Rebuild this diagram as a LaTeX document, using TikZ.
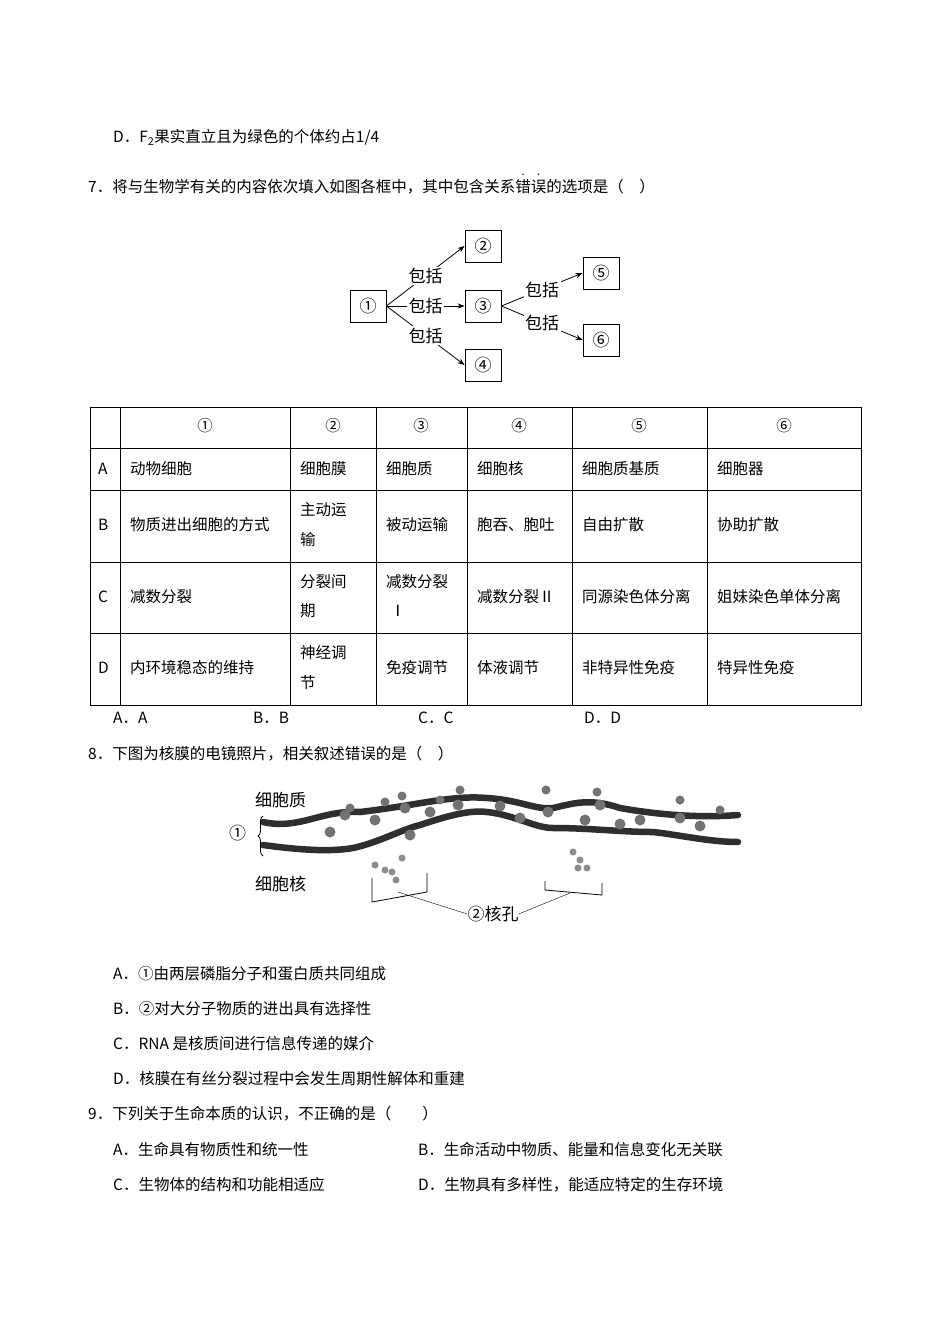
\documentclass[tikz,border=0pt]{standalone}
\usepackage{fontspec}
\setmainfont{Liberation Serif}
\newfontfamily\cjk{Noto Sans CJK SC}
\newcommand\zdot[1]{\leavevmode\rlap{\hbox to 1em{\hss\raisebox{0.95em}{\fontsize{7}{7}\selectfont\textbullet}\hss}}#1}
\usetikzlibrary{arrows.meta,decorations.pathreplacing}
\begin{document}
\begin{tikzpicture}[x=1pt,y=-1pt,
  txt/.style={anchor=west,inner sep=0pt,font=\cjk\fontsize{15.5}{18}\selectfont},
  ctr/.style={anchor=center,inner sep=0pt,font=\cjk\fontsize{15.5}{18}\selectfont},
  bx/.style={draw,thick,minimum width=36pt,minimum height=32pt,inner sep=0pt,font=\cjk\fontsize{17}{18}\selectfont},
  lbl/.style={inner sep=1.5pt,font=\cjk\fontsize{17}{18}\selectfont,fill=white},
  arr/.style={-{Stealth[length=7pt]},thick},
  blob/.style={fill=black!55},
  mem/.style={line width=6.5pt,black!82,line cap=round}]
\useasboundingbox (0,0) rectangle (950,1344);
\fill[white] (0,0) rectangle (950,1344);
% Q6 D
\node[txt] (q6d) at (113,137) {D．F\textsubscript{2}果实直立且为绿色的个体约占1/4};
% Q7
\node[txt] (q7) at (88,184) {7．将与生物学有关的内容依次填入如图各框中，其中包含关系\zdot{错}\zdot{误}的选项是（\quad）};
% diagram
\node[bx] (n1) at (368,306) {①};
\node[bx] (n2) at (483,246) {②};
\node[bx] (n3) at (483,306) {③};
\node[bx] (n4) at (483,365) {④};
\node[bx] (n5) at (601,273) {⑤};
\node[bx] (n6) at (601,340) {⑥};
\draw[arr] (n1.east) -- (n2.west) node[lbl,pos=0.5] {包括};
\draw[arr] (n1.east) -- (n3.west) node[lbl,pos=0.5] {包括};
\draw[arr] (n1.east) -- (n4.west) node[lbl,pos=0.5] {包括};
\draw[arr] (n3.east) -- (n5.west) node[lbl,pos=0.5] {包括};
\draw[arr] (n3.east) -- (n6.west) node[lbl,pos=0.5] {包括};
% table
\draw[thick] (90,407) rectangle (861,705);
\foreach \y in {448,490,562,633} \draw (90,\y) -- (861,\y);
\foreach \x in {120,290,376,467,572,707} \draw (\x,407) -- (\x,705);
\node[ctr] (h1) at (205,426) {①};
\node[ctr] (h2) at (333,426) {②};
\node[ctr] (h3) at (421,426) {③};
\node[ctr] (h4) at (519,426) {④};
\node[ctr] (h5) at (639,426) {⑤};
\node[ctr] (h6) at (784,426) {⑥};
% row A
\node[txt] (ra) at (98,469) {A};
\node[txt] (a1) at (130,469) {动物细胞};
\node[txt] (a2) at (300,469) {细胞膜};
\node[txt] (a3) at (386,469) {细胞质};
\node[txt] (a4) at (477,469) {细胞核};
\node[txt] (a5) at (582,469) {细胞质基质};
\node[txt] (a6) at (717,469) {细胞器};
% row B
\node[txt] (rb) at (98,525) {B};
\node[txt] (b1) at (130,525) {物质进出细胞的方式};
\node[txt] (b2a) at (300,510) {主动运};
\node[txt] (b2b) at (300,540) {输};
\node[txt] (b3) at (386,525) {被动运输};
\node[txt] (b4) at (477,525) {胞吞、胞吐};
\node[txt] (b5) at (582,525) {自由扩散};
\node[txt] (b6) at (717,525) {协助扩散};
% row C
\node[txt] (rc) at (98,597) {C};
\node[txt] (c1) at (130,597) {减数分裂};
\node[txt] (c2a) at (300,582) {分裂间};
\node[txt] (c2b) at (300,611) {期};
\node[txt] (c3a) at (386,582) {减数分裂};
\node[txt] (c3b) at (390,611) {Ⅰ};
\node[txt] (c4) at (477,597) {减数分裂Ⅱ};
\node[txt] (c5) at (582,597) {同源染色体分离};
\node[txt] (c6) at (717,597) {姐妹染色单体分离};
% row D
\node[txt] (rd) at (98,668) {D};
\node[txt] (d1) at (130,668) {内环境稳态的维持};
\node[txt] (d2a) at (300,653) {神经调};
\node[txt] (d2b) at (300,683) {节};
\node[txt] (d3) at (386,668) {免疫调节};
\node[txt] (d4) at (477,668) {体液调节};
\node[txt] (d5) at (582,668) {非特异性免疫};
\node[txt] (d6) at (717,668) {特异性免疫};
% answers
\node[txt] (o7a) at (113,718) {A．A};
\node[txt] (o7b) at (253,718) {B．B};
\node[txt] (o7c) at (418,718) {C．C};
\node[txt] (o7d) at (584,718) {D．D};
% Q8
\node[txt] (q8) at (88,754) {8．下图为核膜的电镜照片，相关叙述错误的是（\quad）};
% micrograph
\draw[mem] (263,822) .. controls (300,830) and (320,810) .. (360,812) .. controls (420,805) and (450,795) .. (487,798) .. controls (520,800) and (535,810) .. (553,808) .. controls (575,803) and (590,798) .. (620,808) .. controls (660,815) and (700,818) .. (738,815);
\draw[mem] (263,845) .. controls (300,850) and (330,852) .. (353,848) .. controls (380,842) and (400,830) .. (420,825) .. controls (450,815) and (470,810) .. (487,812) .. controls (515,815) and (535,828) .. (553,828) .. controls (590,828) and (620,832) .. (653,832) .. controls (680,835) and (710,842) .. (738,842);
\foreach \p in {(345,815),(405,808),(458,805),(548,812),(600,805),(330,832),(410,835),(520,818),(640,820),(700,826),(585,820),(375,820),(430,812),(620,824),(680,818),(500,806)}
  \fill[blob] \p circle (5.5);
\foreach \p in {(385,802),(402,796),(460,790),(546,790),(597,792),(680,800),(350,808),(440,800),(720,810)}
  \fill[blob] \p circle (4.5);
\foreach \p in {(375,865),(392,872),(402,858),(580,860),(573,852),(587,868),(396,880),(385,870),(578,868)}
  \fill[blob,fill=black!45] \p circle (3.5);
\node[txt,font=\cjk\fontsize{17}{18}\selectfont] (cyto) at (255,800) {细胞质};
\node[txt,font=\cjk\fontsize{17}{18}\selectfont] (nuc) at (255,884) {细胞核};
\node[txt,font=\cjk\fontsize{17}{18}\selectfont] (one) at (229,833) {①};
\draw[thick,decorate,decoration={brace,amplitude=5pt}] (263,856) -- (263,816);
\node[ctr,font=\cjk\fontsize{17}{18}\selectfont] (pore) at (493,914) {②核孔};
\coordinate (lb) at (398,892);
\coordinate (rb) at (570,893);
\draw[thick] (372,878) -- (372,902) -- (427,892) -- (427,873);
\draw[thick] (545,881) -- (545,890) -- (602,895) -- (602,883);
\draw (lb) -- (pore.west);
\draw (rb) -- (pore.east);
% Q8 options
\node[txt] (o8a) at (113,974) {A．①由两层磷脂分子和蛋白质共同组成};
\node[txt] (o8b) at (113,1009) {B．②对大分子物质的进出具有选择性};
\node[txt] (o8c) at (113,1044) {C．RNA 是核质间进行信息传递的媒介};
\node[txt] (o8d) at (113,1079) {D．核膜在有丝分裂过程中会发生周期性解体和重建};
% Q9
\node[txt] (q9) at (88,1114) {9．下列关于生命本质的认识，不正确的是（\qquad）};
\node[txt] (o9a) at (113,1150) {A．生命具有物质性和统一性};
\node[txt] (o9b) at (418,1150) {B．生命活动中物质、能量和信息变化无关联};
\node[txt] (o9c) at (113,1185) {C．生物体的结构和功能相适应};
\node[txt] (o9d) at (418,1185) {D．生物具有多样性，能适应特定的生存环境};
\end{tikzpicture}
\end{document}
